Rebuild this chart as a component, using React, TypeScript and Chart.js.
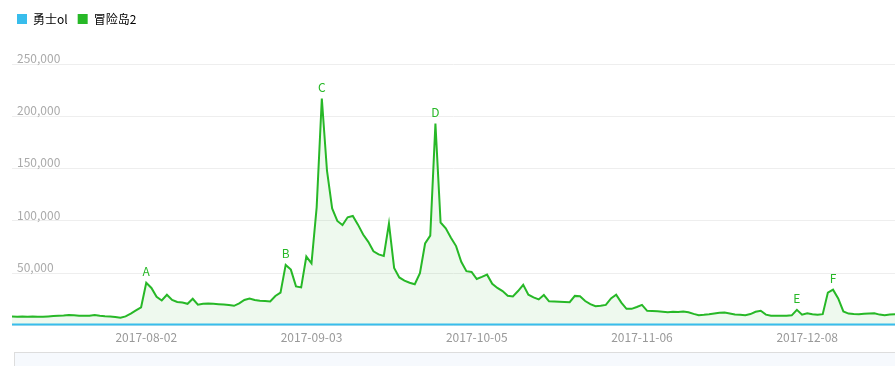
import React, { useEffect, useRef } from 'react';
import { Chart, registerables } from 'chart.js';

Chart.register(...registerables);

const startDate = '2017-07-07';
const dayCount = 172;
const tickLabels = ['2017-08-02', '2017-09-03', '2017-10-05', '2017-11-06', '2017-12-08'];
const seriesNames = ['勇士ol', '冒险岛2'];
const yTicks = [0, 50000, 100000, 150000, 200000, 250000];

const warriorValues = [
  900, 880, 910, 890, 900, 870, 920, 900, 880, 910, 900, 890, 920, 900, 880, 900, 910, 890, 870, 900,
  910, 900, 880, 890, 920, 900, 910, 880, 900, 890, 900, 920, 880, 900, 910, 890, 900, 880, 910, 900,
  890, 900, 920, 900, 880, 910, 900, 890, 900, 910, 880, 900, 890, 920, 900, 910, 880, 900, 890, 900,
  920, 900, 880, 910, 900, 890, 900, 910, 880, 900, 890, 920, 900, 910, 880, 900, 890, 900, 920, 900,
  880, 910, 900, 890, 900, 910, 880, 900, 890, 920, 900, 910, 880, 900, 890, 900, 920, 900, 880, 910,
  900, 890, 900, 910, 880, 900, 890, 920, 900, 910, 880, 900, 890, 900, 920, 900, 880, 910, 900, 890,
  900, 910, 880, 900, 890, 920, 900, 910, 880, 900, 890, 900, 920, 900, 880, 910, 900, 890, 900, 910,
  880, 900, 890, 920, 900, 910, 880, 900, 890, 900, 920, 900, 880, 910, 900, 890, 900, 910, 880, 900,
  890, 920, 900, 910, 880, 900, 890, 900, 920, 900, 880, 910,
];

const maple2Values = [
  8600, 8500, 8700, 8500, 8600, 8400, 8500, 8800, 9200, 9500,
  9700, 10200, 9800, 9500, 9300, 9500, 10200, 9400, 8900, 8600,
  8200, 7600, 8800, 11500, 14500, 17500, 41000, 36000, 27500, 24000,
  29500, 24500, 22600, 22000, 20800, 25600, 19900, 20800, 21000, 20800,
  20500, 20100, 19600, 18900, 21300, 24500, 25800, 24400, 23700, 23400,
  23000, 28300, 31500, 58000, 53500, 37500, 36500, 66000, 59500, 113000,
  217000, 148000, 112000, 100000, 96200, 103500, 104800, 96500, 87000, 80000,
  71000, 68000, 66500, 97400, 55100, 46000, 43000, 41000, 39500, 50000,
  78500, 86000, 193000, 98500, 93000, 84000, 76000, 61000, 52000, 51300,
  44500, 46500, 48700, 40000, 36000, 33000, 28500, 27900, 33000, 39000,
  29500, 27000, 25000, 29200, 23200, 23000, 22800, 22600, 22400, 28400,
  28000, 23500, 20500, 18500, 19000, 19800, 26000, 29500, 22000, 16000,
  16000, 17800, 19800, 14100, 13900, 13600, 13200, 12800, 13200, 13000,
  13500, 12800, 11200, 10000, 10300, 10800, 11500, 12200, 12400, 11600,
  10600, 10300, 10000, 11000, 13200, 14200, 10500, 9500, 9300, 9400,
  9300, 9800, 15100, 10500, 11800, 10800, 10300, 10900, 31500, 34300,
  26000, 13500, 11500, 11000, 10800, 11300, 11600, 11800, 10500, 10000,
  10600, 10900,
];

const markLabels = ['A', 'B', 'C', 'D', 'E', 'F'];
const markDates = ['2017-08-02', '2017-08-29', '2017-09-05', '2017-09-27', '2017-12-06', '2017-12-13'];

const BLUE = '#38bdec';
const GREEN = '#27b827';
const FONT = '"Noto Sans CJK SC", "Open Sans", sans-serif';

function buildDates(start: string, n: number): string[] {
  const out: string[] = [];
  const d = new Date(start + 'T00:00:00Z');
  for (let i = 0; i < n; i++) {
    out.push(d.toISOString().slice(0, 10));
    d.setUTCDate(d.getUTCDate() + 1);
  }
  return out;
}

const dates = buildDates(startDate, dayCount);

const legendHeightPlugin = {
  id: 'legendHeight',
  beforeInit(chart: any) {
    const legend = chart.legend;
    if (!legend) return;
    const orig = legend.fit;
    legend.fit = function () {
      orig.call(this);
      this.height = 61;
    };
  },
};

const markPlugin = {
  id: 'markLabels',
  afterDatasetsDraw(chart: any) {
    const meta = chart.getDatasetMeta(1);
    const ctx = chart.ctx;
    ctx.save();
    ctx.fillStyle = GREEN;
    ctx.font = '12px ' + FONT;
    ctx.textAlign = 'center';
    ctx.textBaseline = 'bottom';
    markDates.forEach((d, k) => {
      const idx = dates.indexOf(d);
      const el = meta.data[idx];
      if (el) ctx.fillText(markLabels[k], el.x, el.y - 5);
    });
    ctx.restore();
  },
};

const sliderPlugin = {
  id: 'sliderBox',
  afterDraw(chart: any) {
    const ctx = chart.ctx;
    ctx.save();
    ctx.fillStyle = '#f6f9fd';
    ctx.strokeStyle = '#dddddd';
    ctx.lineWidth = 1;
    ctx.fillRect(14.5, 352.5, 900, 30);
    ctx.strokeRect(14.5, 352.5, 900, 30);
    ctx.restore();
  },
};

export default function App() {
  const ref = useRef<HTMLCanvasElement | null>(null);

  useEffect(() => {
    if (!ref.current) return;
    const chart = new Chart(ref.current, {
      type: 'line',
      data: {
        labels: dates,
        datasets: [
          {
            label: seriesNames[0],
            data: warriorValues,
            borderColor: BLUE,
            backgroundColor: BLUE,
            borderWidth: 2.5,
            pointRadius: 0,
            tension: 0,
            fill: false,
          },
          {
            label: seriesNames[1],
            data: maple2Values,
            borderColor: GREEN,
            backgroundColor: 'rgba(39,184,39,0.08)',
            borderWidth: 2,
            pointRadius: 0,
            tension: 0,
            fill: 'origin',
          },
        ],
      },
      options: {
        responsive: false,
        animation: false,
        events: [],
        layout: { padding: { left: 7, right: 0, top: 3, bottom: 21 } },
        plugins: {
          legend: {
            position: 'top',
            align: 'start',
            labels: {
              boxWidth: 10,
              boxHeight: 10,
              padding: 10,
              color: '#555',
              font: { size: 12, family: FONT },
              generateLabels: (chart: any) =>
                chart.data.datasets.map((ds: any, i: number) => ({
                  text: ds.label,
                  fillStyle: ds.borderColor,
                  strokeStyle: ds.borderColor,
                  lineWidth: 0,
                  hidden: false,
                  datasetIndex: i,
                })),
            },
          },
          tooltip: { enabled: false },
        },
        scales: {
          x: {
            type: 'category',
            grid: { display: false, drawTicks: true, tickLength: 5 },
            border: { display: false },
            ticks: {
              autoSkip: false,
              maxRotation: 0,
              padding: 0,
              color: '#999',
              font: { size: 12, family: FONT },
              callback: (_v: any, i: number) => (tickLabels.includes(dates[i]) ? dates[i] : ''),
            },
          },
          y: {
            min: 0,
            max: 250000,
            afterFit: (scale: any) => {
              scale.width = 5;
            },
            afterBuildTicks: (scale: any) => {
              scale.ticks = yTicks.map((v) => ({ value: v }));
            },
            grid: { color: '#eeeeee', drawTicks: false },
            border: { display: false },
            ticks: {
              mirror: true,
              padding: 5,
              labelOffset: -6,
              color: '#aaa',
              font: { size: 12, family: FONT },
              callback: (v: any) => (v === 0 ? '' : Number(v).toLocaleString('en-US')),
            },
          },
        },
      },
      plugins: [legendHeightPlugin, markPlugin, sliderPlugin],
    } as any);
    return () => chart.destroy();
  }, []);

  return (
    <div style={{ position: 'fixed', left: 0, top: 0, width: 895, height: 366, background: '#fff' }}>
      <canvas ref={ref} width={895} height={366} style={{ display: 'block' }} />
    </div>
  );
}
